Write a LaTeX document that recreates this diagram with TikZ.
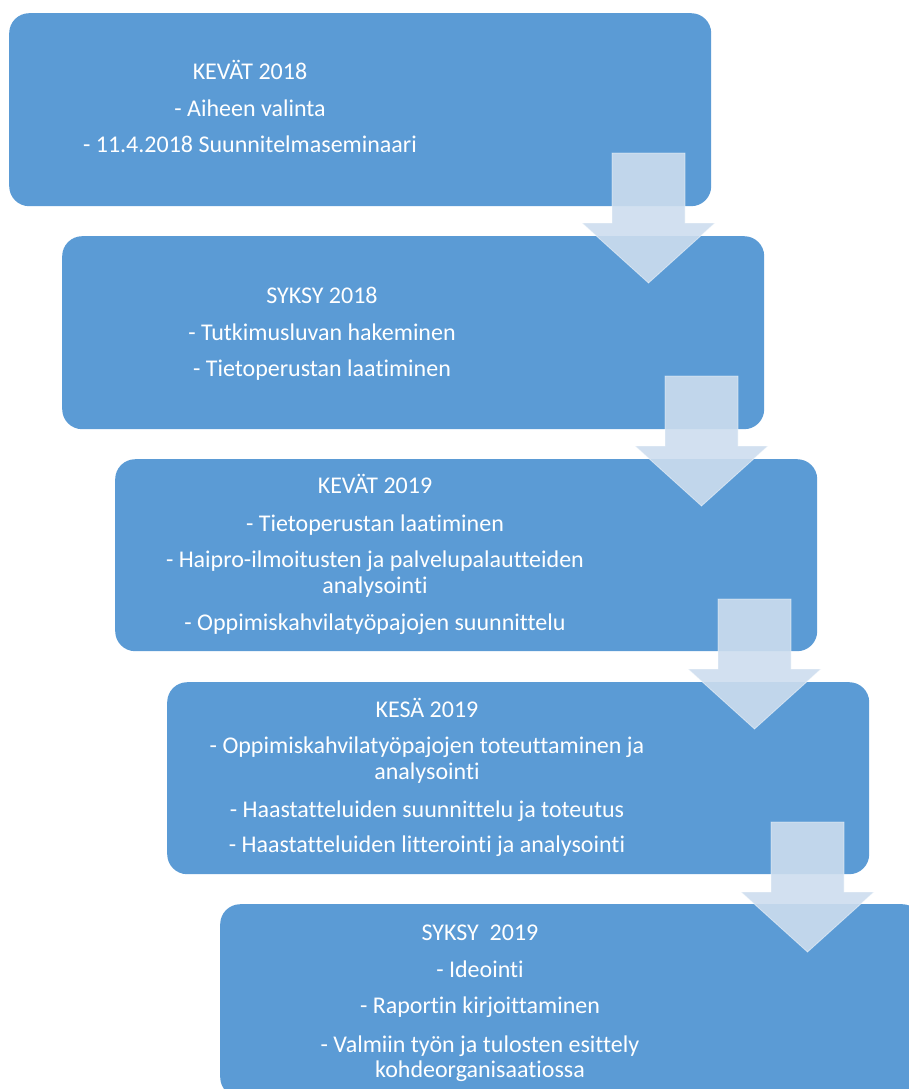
\documentclass[tikz,border=0pt]{standalone}
\usepackage{fontspec}
\setmainfont{Carlito}[Ligatures={NoCommon}]
\definecolor{boxblue}{HTML}{5B9BD5}
\definecolor{arrowfill}{RGB}{205,221,238}
\tikzset{
  box/.style={rectangle, fill=boxblue, draw=none, rounded corners=20pt, inner sep=0pt, anchor=north west},
  lbl/.style={text=white, anchor=base, inner sep=0pt, font=\fontsize{24}{28}\selectfont},
  blockarrow/.style={fill=arrowfill, fill opacity=0.9, draw=white, draw opacity=0.5, line width=0.8pt, line join=miter},
  downarr/.pic={\path[blockarrow] (0,0) -- (73,0) -- (73,70) -- (103,70) -- (36.5,130) -- (-30,70) -- (0,70) -- cycle;}
}
\begin{document}
\begin{tikzpicture}[x=1pt,y=-1pt]
\useasboundingbox (0,0) rectangle (909,1089);
\clip (0,0) rectangle (909,1089);
% boxes
\node[box, minimum width=702pt, minimum height=193pt] (b1) at (9,13) {};
\node[box, minimum width=702pt, minimum height=193pt] (b2) at (62,236) {};
\node[box, minimum width=702pt, minimum height=192pt] (b3) at (115,459) {};
\node[box, minimum width=702pt, minimum height=192pt] (b4) at (167,682) {};
\node[box, minimum width=702pt, minimum height=193pt] (b5) at (220,904) {};
% arrows
\pic (a1) at (612,153) {downarr};
\pic (a2) at (665,376) {downarr};
\pic (a3) at (718,599) {downarr};
\pic (a4) at (771,822) {downarr};
% box 1
\node[lbl] (t11) at (250,80) {KEVÄT 2018};
\node[lbl] (t12) at (250,117) {- Aiheen valinta};
\node[lbl] (t13) at (250,153) {- 11.4.2018 Suunnitelmaseminaari};
% box 2
\node[lbl] (t21) at (322,303) {SYKSY 2018};
\node[lbl] (t22) at (322,340) {- Tutkimusluvan hakeminen};
\node[lbl] (t23) at (322,376) {- Tietoperustan laatiminen};
% box 3
\node[lbl] (t31) at (375,493) {KEVÄT 2019};
\node[lbl] (t32) at (375,531) {- Tietoperustan laatiminen};
\node[lbl] (t33) at (375,567) {- Haipro-ilmoitusten ja palvelupalautteiden};
\node[lbl] (t34) at (375,593) {analysointi};
\node[lbl] (t35) at (375,630) {- Oppimiskahvilatyöpajojen suunnittelu};
% box 4
\node[lbl] (t41) at (427,717) {KESÄ 2019};
\node[lbl] (t42) at (427,753) {- Oppimiskahvilatyöpajojen toteuttaminen ja};
\node[lbl] (t43) at (427,779) {analysointi};
\node[lbl] (t44) at (427,817) {- Haastatteluiden suunnittelu ja toteutus};
\node[lbl] (t45) at (427,852) {- Haastatteluiden litterointi ja analysointi};
% box 5
\node[lbl] (t51) at (480,940) {SYKSY\ \ 2019};
\node[lbl] (t52) at (480,977) {- Ideointi};
\node[lbl] (t53) at (480,1013) {- Raportin kirjoittaminen};
\node[lbl] (t54) at (480,1052) {- Valmiin työn ja tulosten esittely};
\node[lbl] (t55) at (480,1077) {kohdeorganisaatiossa};
\end{tikzpicture}
\end{document}
